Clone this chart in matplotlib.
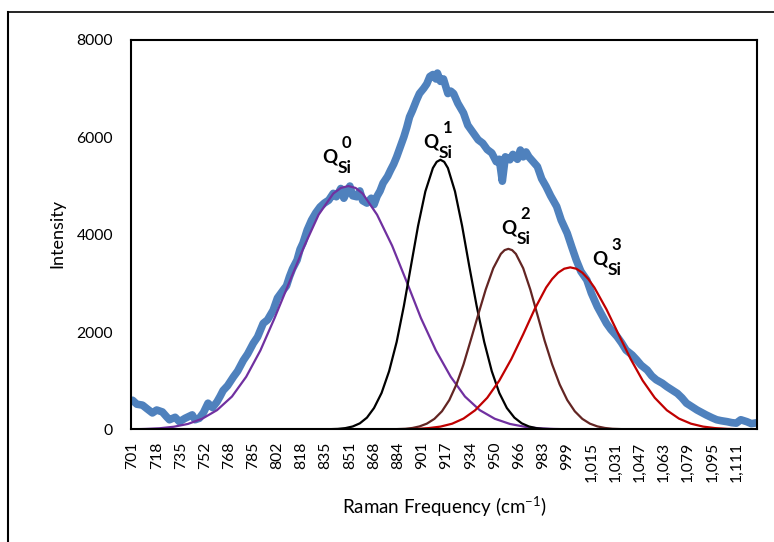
import numpy as np
import matplotlib.pyplot as plt
from matplotlib.lines import Line2D

plt.rcParams['font.family'] = ['Lato', 'DejaVu Sans']
plt.rcParams['mathtext.fontset'] = 'custom'
plt.rcParams['mathtext.rm'] = 'Lato'
plt.rcParams['mathtext.bf'] = 'Lato:bold'

# category labels of the x axis (Excel category axis)
tick_wn = [701, 718, 735, 752, 768, 785, 802, 818, 835, 851, 868, 884, 901,
           917, 934, 950, 966, 983, 999, 1015, 1031, 1047, 1063, 1079, 1095, 1111]
tick_labels = ["701", "718", "735", "752", "768", "785", "802", "818", "835",
               "851", "868", "884", "901", "917", "934", "950", "966", "983",
               "999", "1,015", "1,031", "1,047", "1,063", "1,079", "1,095", "1,111"]

# measured spectrum
raman_wn = [701, 704, 708, 711, 715, 718, 722, 725, 727, 731, 734, 738, 743, 745,
            748, 751, 754, 757, 760, 762, 764, 767, 771, 774, 778, 781, 785, 788,
            792, 795, 799, 802, 806, 808, 810, 812, 815, 817, 819, 822, 825, 828,
            831, 834, 837, 840, 842, 845, 847, 849, 851, 853, 856, 858, 860, 863,
            866, 868, 870, 872, 874, 877, 879, 881, 883, 886, 888, 890, 892, 894,
            897, 899, 902, 904, 906, 908, 910, 911, 913, 915, 918, 920, 922, 925,
            929, 932, 936, 939, 942, 945, 948, 951, 953, 955, 957, 960, 962, 965,
            967, 969, 971, 973, 976, 979, 982, 985, 988, 992, 995, 999, 1002, 1005,
            1008, 1012, 1015, 1019, 1022, 1025, 1028, 1032, 1035, 1038, 1042, 1045,
            1048, 1052, 1055, 1058, 1062, 1065, 1068, 1072, 1075, 1078, 1081, 1085,
            1088, 1091, 1095, 1098, 1101, 1105, 1108, 1111, 1114, 1118, 1121, 1125]
raman_int = [600, 520, 500, 430, 340, 400, 360, 260, 200, 250, 160, 230, 300, 200,
             230, 350, 540, 450, 570, 680, 800, 900, 1080, 1200, 1420, 1550, 1770, 1900,
             2180, 2250, 2450, 2700, 2870, 2950, 3140, 3300, 3480, 3700, 3830, 4100, 4300, 4450,
             4570, 4650, 4710, 4850, 4780, 4950, 4750, 4880, 5000, 4800, 4780, 4900, 4700, 4650,
             4750, 4620, 4790, 4900, 5060, 5200, 5330, 5450, 5600, 5850, 6010, 6200, 6420, 6550,
             6770, 6900, 7010, 7100, 7250, 7290, 7200, 7320, 7150, 7200, 6900, 6950, 6900, 6700,
             6500, 6250, 6080, 5950, 5880, 5750, 5680, 5500, 5550, 5100, 5600, 5540, 5650, 5550,
             5740, 5600, 5700, 5600, 5500, 5400, 5150, 4990, 4800, 4580, 4300, 4030, 3750, 3480,
             3250, 3070, 2800, 2520, 2350, 2180, 2050, 1910, 1780, 1630, 1530, 1430,
             1320, 1220, 1100, 1020, 950, 880, 820, 740, 650, 540, 480, 400,
             350, 300, 240, 200, 180, 160, 140, 130, 200, 160, 120, 140]

# fitted components
q0_wn = [701, 710, 720, 730, 740, 750, 760, 770, 780, 790, 800, 810, 820, 830, 840,
         845, 850, 855, 860, 870, 880, 890, 900, 910, 920, 930, 940, 950, 960, 970,
         980, 990, 1000, 1125]
q0_int = [4, 11, 25, 56, 114, 220, 398, 677, 1082, 1623, 2289, 3033, 3774, 4412, 4846,
          4961, 5000, 4961, 4846, 4412, 3774, 3033, 2289, 1623, 1082, 677, 398, 220, 114,
          56, 25, 11, 4, 0]

q1_wn = [701, 833, 843, 848, 853, 858, 863, 868, 873, 878, 883, 888, 893, 898, 903,
         908, 910.5, 913, 915.5, 918, 923, 928, 933, 938, 943, 948, 953, 958, 963, 968,
         973, 978, 983, 993, 1125]
q1_int = [0, 2, 12, 28, 62, 126, 243, 441, 750, 1198, 1799, 2536, 3360, 4182, 4889,
          5370, 5497, 5540, 5497, 5370, 4889, 4182, 3360, 2536, 1799, 1198, 750, 441, 243,
          126, 62, 28, 12, 2, 0]

q2_wn = [701, 879, 889, 894, 899, 904, 909, 914, 919, 924, 929, 934, 939, 944, 949,
         954, 956.5, 959, 961.5, 964, 969, 974, 979, 984, 989, 994, 999, 1004, 1009,
         1014, 1019, 1024, 1029, 1039, 1125]
q2_int = [0, 3, 14, 31, 63, 120, 218, 374, 605, 925, 1337, 1826, 2357, 2875, 3312,
          3606, 3684, 3710, 3684, 3606, 3312, 2875, 2357, 1826, 1337, 925, 605, 374, 218,
          120, 63, 31, 14, 3, 0]

q3_wn = [701, 877, 889, 897, 905, 913, 921, 929, 937, 945, 953, 961, 969, 977, 985,
         989, 993, 997, 1001, 1005, 1009, 1013, 1017, 1025, 1033, 1041, 1049, 1057, 1065,
         1073, 1081, 1089, 1097, 1105, 1113, 1125]
q3_int = [0, 1, 5, 12, 28, 59, 119, 224, 395, 651, 1004, 1449, 1955, 2468, 2915,
          3090, 3221, 3302, 3330, 3302, 3221, 3090, 2915, 2468, 1955, 1449, 1004, 651, 395,
          224, 119, 59, 28, 12, 5, 1]


def xpos(wn):
    # map wavenumber onto the category positions of the axis
    return np.interp(wn, tick_wn + [1127], list(range(len(tick_wn) + 1)))


fig = plt.figure(figsize=(7.74, 5.42), dpi=100)
ax = fig.add_axes([0.1693, 0.2076, 0.8091, 0.7186])

ax.plot(xpos(raman_wn), raman_int, color='#4F81BD', lw=5.5, solid_joinstyle='round',
        solid_capstyle='round')
ax.plot(xpos(q0_wn), q0_int, color='#7030A0', lw=1.6)
ax.plot(xpos(q1_wn), q1_int, color='black', lw=1.6)
ax.plot(xpos(q2_wn), q2_int, color='#632523', lw=1.6)
ax.plot(xpos(q3_wn), q3_int, color='#C00000', lw=1.6)

ax.set_xlim(-0.062, 25.87)
ax.set_ylim(0, 8000)
ax.set_yticks([0, 2000, 4000, 6000, 8000])
ax.set_xticks(range(len(tick_labels)))
ax.set_xticklabels(tick_labels, rotation=90)
ax.tick_params(axis='y', length=0, pad=13, labelsize=11.3)
ax.tick_params(axis='x', length=0, pad=9, labelsize=11.3)
for s in ax.spines.values():
    s.set_linewidth(1.5)
    s.set_color('black')


def qlabel(wn, y, n):
    x = xpos(wn)
    ax.text(x, y, "Q", fontsize=13.5, fontweight='bold', ha='right', va='baseline')
    ax.annotate("Si", (x, y), xytext=(0, -7), textcoords='offset points',
                fontsize=12.5, fontweight='bold', ha='left', va='baseline')
    ax.annotate(n, (x, y), xytext=(6, 11), textcoords='offset points',
                fontsize=12, fontweight='bold', ha='center', va='baseline')


qlabel(843, 5474, "0")
qlabel(912, 5782, "1")
qlabel(964.6, 4016, "2")
qlabel(1026, 3379, "3")

fig.text(57 / 774, 1 - 233 / 542, "Intensity", rotation=90, fontsize=13,
         ha='center', va='center')
fig.text(444 / 774, 1 - 507 / 542, "Raman Frequency (cm$^{-1}$)", fontsize=13.5,
         ha='center', va='center')

# chart area border (only the left and top edges fall inside the image)
fig.add_artist(Line2D([8 / 774, 8 / 774], [0, 1 - 11.5 / 542], color='black', lw=1.5))
fig.add_artist(Line2D([8 / 774, 1], [1 - 11.5 / 542, 1 - 11.5 / 542], color='black', lw=1.2))

fig.savefig('out.png', dpi=100)
